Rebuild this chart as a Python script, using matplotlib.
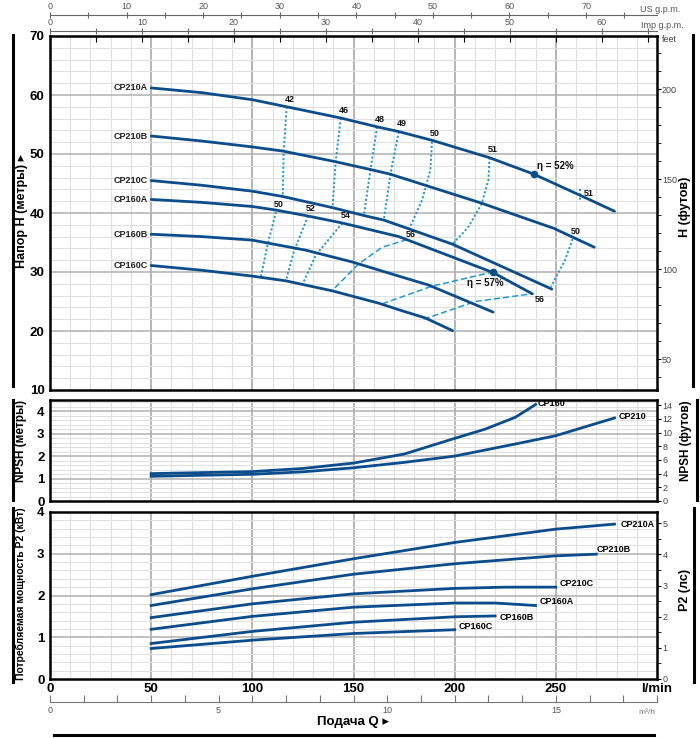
import matplotlib
matplotlib.use('Agg')
import matplotlib.pyplot as plt
from matplotlib.ticker import FixedLocator, MultipleLocator
from matplotlib.lines import Line2D
import logging
logging.getLogger('matplotlib.font_manager').setLevel(logging.ERROR)

plt.rcParams['font.family'] = ['Liberation Sans', 'DejaVu Sans']

# ---------------- data ----------------
# Head curves  (Q l/min, H m)
q_210a = [50, 75, 100, 117, 143.7, 161.7, 172.4, 189, 217, 239, 262, 279]
h_210a = [61.2, 60.4, 59.2, 58.0, 56.1, 54.6, 53.8, 52.3, 49.4, 46.6, 43.0, 40.3]
q_210b = [50, 75, 100, 115, 141, 158, 168, 213, 249, 269]
h_210b = [53.05, 52.2, 51.2, 50.5, 48.7, 47.4, 46.6, 41.7, 37.4, 34.2]
q_210c = [50, 75, 100, 115, 139.7, 156, 165, 199, 248]
h_210c = [45.5, 44.7, 43.7, 42.8, 40.9, 39.5, 38.8, 34.7, 27.1]
q_160a = [50, 75, 100, 111.7, 127.3, 144.5, 172.4, 219, 238.4]
h_160a = [42.3, 41.8, 41.1, 40.5, 39.5, 38.3, 36.0, 29.9, 26.3]
q_160b = [50, 75, 100, 126.4, 149.4, 172.4, 187, 219]
h_160b = [36.4, 36.0, 35.4, 33.7, 31.7, 29.3, 27.8, 23.2]
q_160c = [50, 75, 100, 116.6, 139.6, 162.6, 172.4, 185.6, 199]
h_160c = [31.1, 30.3, 29.3, 28.5, 26.8, 24.7, 23.6, 22.2, 20.05]
head_names = ['CP210A', 'CP210B', 'CP210C', 'CP160A', 'CP160B', 'CP160C']

# Efficiency iso-lines (label, Q, H)
eff_dotted = [
    ('42', [117, 115.5, 115], [58.0, 50.5, 42.8]),
    ('46', [143.7, 141.2, 139.6], [56.1, 48.7, 40.9]),
    ('48', [161.7, 158.4, 155.2], [54.6, 47.4, 39.7]),
    ('49', [172.4, 168.3, 165], [53.8, 46.7, 38.8]),
    ('50', [188.8, 188, 183.9, 177.3], [52.1, 47.3, 42.2, 37.1]),
    ('51', [217.2, 216.7, 213.4, 206.9, 199], [49.4, 45.6, 41.6, 37.7, 34.7]),
    ('50', [258.3, 254.5, 247.6], [35.6, 32.0, 27.5]),
    ('50', [111.7, 107.5, 104.2], [40.2, 34.6, 29.1]),
    ('52', [127.6, 120.7, 116.6], [39.5, 33.7, 28.5]),
    ('54', [144.5, 131.4, 124.8], [38.3, 32.9, 27.9]),
]
eff_tick_q = [262, 262]
eff_tick_h = [44.0, 42.2]
eff_dashed = [
    ('56', [176.5, 164.2, 152.7, 139.6], [35.5, 34.2, 31.4, 26.9]),
    ('57', [164.2, 188.8, 218.9], [24.6, 27.6, 30.0]),
    ('56', [184.7, 210.2, 238.1], [22.0, 25.0, 26.3]),
]
best_q = [239, 218.9]
best_h = [46.6, 30.0]

# NPSH (m)
q_npsh160 = [50, 100, 125, 150, 175, 200, 215, 230, 240]
n_npsh160 = [1.22, 1.31, 1.45, 1.69, 2.09, 2.79, 3.2, 3.73, 4.3]
q_npsh210 = [50, 100, 125, 150, 175, 200, 230, 250, 279]
n_npsh210 = [1.10, 1.19, 1.30, 1.48, 1.72, 2.0, 2.54, 2.91, 3.7]

# Power P2 (kW)
q_p210a = [50, 100, 150, 200, 250, 279]
p_210a = [2.02, 2.46, 2.88, 3.27, 3.59, 3.71]
q_p210b = [50, 100, 150, 200, 250, 270]
p_210b = [1.76, 2.16, 2.51, 2.76, 2.95, 2.99]
q_p210c = [50, 100, 150, 200, 225, 250]
p_210c = [1.47, 1.80, 2.04, 2.17, 2.20, 2.20]
q_p160a = [50, 100, 150, 200, 220, 240]
p_160a = [1.19, 1.50, 1.72, 1.82, 1.82, 1.76]
q_p160b = [50, 100, 150, 200, 220]
p_160b = [0.85, 1.14, 1.36, 1.49, 1.51]
q_p160c = [50, 100, 150, 200]
p_160c = [0.73, 0.93, 1.09, 1.18]

xlabels = ['0', '50', '100', '150', '200', '250', 'l/min']

# ---------------- figure ----------------
W, H = 700, 738
fig = plt.figure(figsize=(7, 7.38), dpi=100)


def box(l, t, r, b):
    return [l / W, 1 - b / H, (r - l) / W, (b - t) / H]


def fx(x):
    return x / W


def fy(y):
    return 1 - y / H


BLUE = '#0b4d8c'
LBLUE = '#1f9ad6'
MAJ = '#b0b0b0'
MIN = '#e0e0e0'


def grid(a, y0, y1, ymin_step, ymaj_step):
    for q in range(10, 300, 10):
        if q % 50 == 0:
            a.axvline(q, color=MAJ, lw=1.3, zorder=0)
        else:
            a.axvline(q, color=MIN, lw=0.8, zorder=0)
    n = int(round((y1 - y0) / ymin_step))
    for i in range(1, n + 1):
        y = y0 + i * ymin_step
        if y >= y1 - 1e-6:
            break
        if abs(y / ymaj_step - round(y / ymaj_step)) < 1e-6:
            a.axhline(y, color=MAJ, lw=1.1, zorder=0)
        else:
            a.axhline(y, color=MIN, lw=0.8, zorder=0)


def spines(a):
    for s in a.spines.values():
        s.set_linewidth(1.8)
        s.set_color('black')


# ---------- main head panel ----------
ax = fig.add_axes(box(50, 36, 657, 390))
ax.set_xlim(0, 300)
ax.set_ylim(10, 70)
grid(ax, 10, 70, 2, 10)
spines(ax)
ax.set_yticks(range(10, 71, 10))
ax.set_yticklabels([str(v) for v in range(10, 71, 10)], fontsize=9.5, fontweight='bold')
ax.tick_params(axis='y', length=0, pad=4)
ax.tick_params(axis='x', length=0, labelbottom=False)
ax.set_xticks([i * 5 * 4.546 for i in range(0, 14)], minor=True)
ax.tick_params(axis='x', which='minor', top=True, bottom=False, direction='in', length=4, width=0.8)

heads = [(q_210a, h_210a), (q_210b, h_210b), (q_210c, h_210c),
         (q_160a, h_160a), (q_160b, h_160b), (q_160c, h_160c)]
for name, (qq, hh) in zip(head_names, heads):
    ax.plot(qq, hh, color=BLUE, lw=2.0, zorder=4, solid_capstyle='round')
    ax.text(48.5, hh[0], name, ha='right', va='center', fontsize=6.5, fontweight='bold', color='#222')

for lab, qq, hh in eff_dotted:
    ax.plot(qq, hh, color=LBLUE, lw=1.4, ls=(0, (1.1, 1.1)), zorder=3)
    ax.text(qq[0] + 1.5, hh[0] + 1.3, lab, ha='center', va='center', fontsize=6.5,
            fontweight='bold', color='#111', zorder=6)
ax.plot(eff_tick_q, eff_tick_h, color=LBLUE, lw=1.4, ls=(0, (1.1, 1.1)), zorder=3)
ax.text(264, 43.3, '51', ha='left', va='center', fontsize=6.5, fontweight='bold', color='#111')
for lab, qq, hh in eff_dashed:
    ax.plot(qq, hh, color=LBLUE, lw=1.1, ls=(0, (4, 2)), zorder=3)
ax.text(178.5, 36.3, '56', ha='center', va='center', fontsize=6.5, fontweight='bold', color='#111', zorder=6)
ax.text(242, 25.3, '56', ha='center', va='center', fontsize=6.5, fontweight='bold', color='#111', zorder=6)
ax.plot(best_q, best_h, 'o', color=BLUE, ms=4.5, zorder=5)
ax.text(240.5, 47.9, 'η = 52%', ha='left', va='center', fontsize=7, fontweight='bold', color='#111')
ax.text(215, 28.2, 'η = 57%', ha='center', va='center', fontsize=7, fontweight='bold', color='#111')

axf = ax.twinx()
axf.set_ylim(10 * 3.28084, 70 * 3.28084)
axf.yaxis.set_major_locator(FixedLocator([50, 100, 150, 200]))
axf.yaxis.set_minor_locator(MultipleLocator(10))
axf.tick_params(axis='y', which='major', direction='out', length=3, labelsize=6.5, labelcolor='#444', pad=0.5)
axf.tick_params(axis='y', which='minor', direction='out', length=3)
for s in axf.spines.values():
    s.set_visible(False)
fig.text(fx(662), fy(39), 'feet', fontsize=6.5, color='#444', ha='left', va='center')

# ---------- NPSH panel ----------
axn = fig.add_axes(box(50, 400, 657, 501))
axn.set_xlim(0, 300)
axn.set_ylim(0, 4.5)
grid(axn, 0, 4.5, 0.2, 1)
spines(axn)
axn.set_yticks([0, 1, 2, 3, 4])
axn.set_yticklabels(['0', '1', '2', '3', '4'], fontsize=9.5, fontweight='bold')
axn.tick_params(axis='y', length=0, pad=4)
axn.tick_params(axis='x', length=0, labelbottom=False)
axn.plot(q_npsh160, n_npsh160, color=BLUE, lw=2.0, zorder=4)
axn.plot(q_npsh210, n_npsh210, color=BLUE, lw=2.0, zorder=4)
axn.text(q_npsh160[-1] + 1, n_npsh160[-1] + 0.05, 'CP160', fontsize=6.5, fontweight='bold', ha='left', va='center')
axn.text(q_npsh210[-1] + 2, n_npsh210[-1] + 0.05, 'CP210', fontsize=6.5, fontweight='bold', ha='left', va='center')
axnf = axn.twinx()
axnf.set_ylim(0, 4.5 * 3.28084)
axnf.set_yticks(range(0, 15, 2))
axnf.tick_params(axis='y', direction='out', length=3, labelsize=6.5, labelcolor='#444', pad=1)
for s in axnf.spines.values():
    s.set_visible(False)

# ---------- Power panel ----------
axp = fig.add_axes(box(50, 512, 657, 679))
axp.set_xlim(0, 300)
axp.set_ylim(0, 4)
grid(axp, 0, 4, 0.2, 1)
spines(axp)
axp.set_yticks([0, 1, 2, 3, 4])
axp.set_yticklabels(['0', '1', '2', '3', '4'], fontsize=9.5, fontweight='bold')
axp.tick_params(axis='y', length=0, pad=4)
axp.set_xticks([0, 50, 100, 150, 200, 250, 300])
axp.set_xticklabels(xlabels, fontsize=9.5, fontweight='bold')
axp.tick_params(axis='x', length=0, pad=3)
powers = [(q_p210a, p_210a, 'CP210A', 3, 0.0), (q_p210b, p_210b, 'CP210B', 0, 0.12),
          (q_p210c, p_210c, 'CP210C', 2, 0.08), (q_p160a, p_160a, 'CP160A', 2, 0.1),
          (q_p160b, p_160b, 'CP160B', 2, -0.03), (q_p160c, p_160c, 'CP160C', 2, 0.08)]
for qq, pp, name, dx, dy in powers:
    axp.plot(qq, pp, color=BLUE, lw=2.0, zorder=4)
    axp.text(qq[-1] + dx, pp[-1] + dy, name, fontsize=6.5, fontweight='bold', ha='left', va='center')
axpf = axp.twinx()
axpf.set_ylim(0, 4 / 0.7457)
axpf.yaxis.set_major_locator(FixedLocator([0, 1, 2, 3, 4, 5]))
axpf.yaxis.set_minor_locator(MultipleLocator(0.5))
axpf.tick_params(axis='y', which='major', direction='out', length=3, labelsize=6.5, labelcolor='#444', pad=1)
axpf.tick_params(axis='y', which='minor', direction='out', length=3)
for s in axpf.spines.values():
    s.set_visible(False)


# ---------- extra flow scales ----------
def scale_axis(y_px, xmax, major, minor, top_labels, lab_color='#555'):
    a = fig.add_axes(box(50, y_px - 1, 657, y_px))
    a.set_xlim(0, xmax)
    a.set_yticks([])
    a.patch.set_visible(False)
    for k in ('left', 'right'):
        a.spines[k].set_visible(False)
    if top_labels:
        a.spines['bottom'].set_visible(False)
        a.spines['top'].set_color('#666')
        a.spines['top'].set_linewidth(0.8)
        a.xaxis.set_ticks_position('top')
        a.tick_params(axis='x', which='both', direction='inout', length=5, width=0.8, color='#666',
                      labelsize=6.5, labelcolor=lab_color, pad=0.5, top=True, bottom=False,
                      labeltop=True, labelbottom=False)
    else:
        a.spines['top'].set_visible(False)
        a.spines['bottom'].set_color('#777')
        a.spines['bottom'].set_linewidth(0.8)
        a.tick_params(axis='x', which='both', direction='in', length=5, width=0.8, color='#777',
                      labelsize=6.5, labelcolor=lab_color, pad=3)
    a.xaxis.set_major_locator(MultipleLocator(major))
    a.xaxis.set_minor_locator(MultipleLocator(minor))
    return a


us = scale_axis(16, 300 / 3.785, 10, 5, True)
imp = scale_axis(32, 300 / 4.546, 10, 5, True)
m3 = scale_axis(702, 18, 5, 1, False)
fig.text(fx(640), fy(9), 'US g.p.m.', fontsize=6.5, color='#555', ha='left', va='center')
fig.text(fx(641), fy(25), 'Imp g.p.m.', fontsize=6.5, color='#555', ha='left', va='center')
fig.text(fx(655), fy(713), 'm³/h', fontsize=6, color='#777', ha='right', va='center')

# ---------- side / bottom titles ----------
lbl = dict(fontsize=9, fontweight='bold', rotation=90, ha='center', va='center')
fig.text(fx(22), fy(211), 'Напор H (метры) ▸', **lbl)
fig.text(fx(685), fy(207), 'H (футов)', **lbl)
fig.text(fx(21), fy(441), 'NPSH (метры)', fontsize=8.5, fontweight='bold', rotation=90, ha='center', va='center')
fig.text(fx(686), fy(441), 'NPSH (футов)', fontsize=8.5, fontweight='bold', rotation=90, ha='center', va='center')
fig.text(fx(21), fy(594), 'Потребляемая мощность P2 (кВт)', fontsize=7.5, fontweight='bold', rotation=90, ha='center', va='center')
fig.text(fx(685), fy(590), 'P2 (лс)', **lbl)
fig.text(fx(353), fy(722), 'Подача Q ▸', fontsize=9.5, fontweight='bold', ha='center', va='center')

bars = [((13, 13), (35, 386)), ((13, 13), (400, 500)), ((13, 13), (508, 682)),
        ((693, 693), (35, 386)), ((697, 697), (400, 500)), ((694, 694), (508, 682)),
        ((54, 654), (735, 735))]
for xs, ys in bars:
    fig.add_artist(Line2D([fx(xs[0]), fx(xs[1])], [fy(ys[0]), fy(ys[1])],
                          transform=fig.transFigure, color='black', lw=2.2))

fig.savefig('out.png', dpi=100)
